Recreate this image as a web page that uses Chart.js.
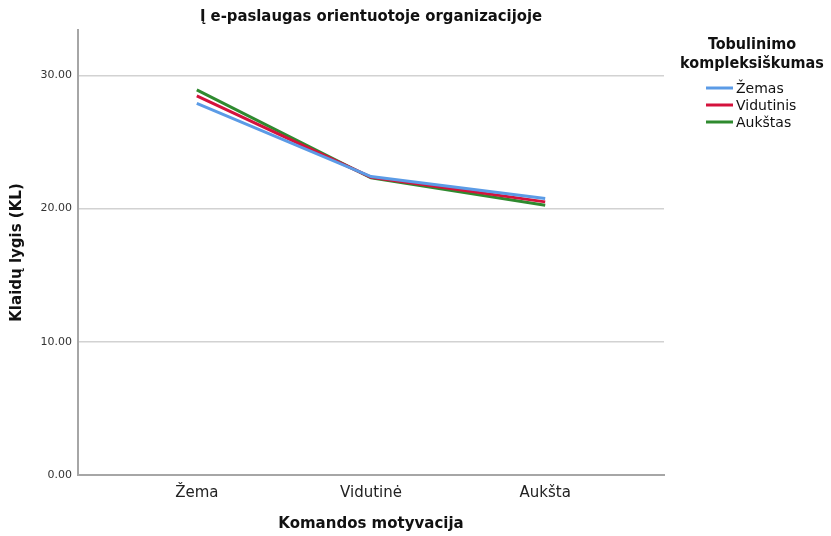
<!DOCTYPE html>
<html>
<head>
<meta charset="utf-8">
<script src="https://cdn.jsdelivr.net/npm/chart.js@4"></script>
<style>
  html, body { margin: 0; padding: 0; background: #fff; }
  #wrap { width: 831px; height: 536px; }
</style>
</head>
<body>
<div id="wrap"><canvas id="chart" width="831" height="536"></canvas></div>
<script>
// Data
const categories = ['Žema', 'Vidutinė', 'Aukšta'];
const seriesNames = ['Žemas', 'Vidutinis', 'Aukštas'];
const zemasValues = [27.9, 22.4, 20.75];
const vidutinisValues = [28.45, 22.35, 20.5];
const aukstasValues = [28.9, 22.3, 20.25];
const yTicks = [0, 10, 20, 30];

const colors = ['#5b9be6', '#d4123c', '#2f8a2f'];
const font = "'DejaVu Sans', sans-serif";
const condensed = "'DejaVu Sans Condensed', sans-serif";

function toPoints(values) {
    return values.map(function(v, i) { return { x: i, y: v }; });
}

// Title and legend drawn on the canvas
const decorPlugin = {
    id: 'decor',
    afterDraw: function(chart) {
        const ctx = chart.ctx;
        const area = chart.chartArea;
        ctx.save();
        ctx.fillStyle = '#111';
        ctx.textAlign = 'center';
        ctx.textBaseline = 'middle';
        ctx.font = 'bold 16.5px ' + condensed;
        ctx.fillText('Į e-paslaugas orientuotoje organizacijoje', (area.left + area.right) / 2, 17);

        ctx.font = 'bold 16px ' + condensed;
        ctx.fillText('Tobulinimo', 752, 45);
        ctx.fillText('kompleksiškumas', 752, 64);

        ctx.textAlign = 'left';
        ctx.font = '14px ' + font;
        seriesNames.forEach(function(name, i) {
            const y = 88 + i * 17;
            ctx.strokeStyle = colors[i];
            ctx.lineWidth = 3;
            ctx.beginPath();
            ctx.moveTo(706, y);
            ctx.lineTo(733, y);
            ctx.stroke();
            ctx.fillStyle = '#111';
            ctx.fillText(name, 736, y + 1);
        });
        ctx.restore();
    }
};

new Chart(document.getElementById('chart'), {
    type: 'line',
    data: {
        datasets: [
            { label: seriesNames[0], data: toPoints(zemasValues), borderColor: colors[0] },
            { label: seriesNames[1], data: toPoints(vidutinisValues), borderColor: colors[1] },
            { label: seriesNames[2], data: toPoints(aukstasValues), borderColor: colors[2] },
        ].map(function(d) {
            d.borderWidth = 3;
            d.pointRadius = 0;
            d.fill = false;
            d.tension = 0;
            return d;
        }),
    },
    options: {
        responsive: false,
        animation: false,
        layout: { padding: { top: 30, right: 167, left: 0, bottom: 0 } },
        plugins: {
            legend: { display: false },
            title: { display: false },
            tooltip: { enabled: false },
        },
        scales: {
            x: {
                type: 'linear',
                min: -0.682,
                max: 2.682,
                afterBuildTicks: function(scale) {
                    scale.ticks = [0, 1, 2].map(function(v) { return { value: v }; });
                },
                afterFit: function(scale) { scale.height = 61; },
                grid: { display: false, drawTicks: false },
                border: { display: true, color: '#a6a6a6', width: 2 },
                ticks: {
                    padding: 9,
                    color: '#222',
                    font: { family: font, size: 15 },
                    callback: function(v) { return categories[v]; },
                },
                title: {
                    display: true,
                    text: 'Komandos motyvacija',
                    color: '#111',
                    font: { family: font, size: 15, weight: 'bold' },
                    padding: { top: 0, bottom: 3 },
                },
            },
            y: {
                min: 0,
                max: 33.4,
                afterBuildTicks: function(scale) {
                    scale.ticks = yTicks.map(function(v) { return { value: v }; });
                },
                afterFit: function(scale) { scale.width = 78; },
                grid: {
                    color: function(c) { return c.tick && c.tick.value === 0 ? 'rgba(0,0,0,0)' : '#d2d2d2'; },
                    lineWidth: 1.5,
                    drawTicks: false,
                },
                border: { display: true, color: '#a6a6a6', width: 2 },
                ticks: {
                    padding: 6,
                    color: '#333',
                    font: { family: font, size: 11 },
                    callback: function(v) { return v.toFixed(2); },
                },
                title: {
                    display: true,
                    text: 'Klaidų lygis (KL)',
                    color: '#111',
                    font: { family: font, size: 15, weight: 'bold' },
                    padding: { top: 8, bottom: 0 },
                },
            },
        },
    },
    plugins: [decorPlugin],
});
</script>
</body>
</html>
